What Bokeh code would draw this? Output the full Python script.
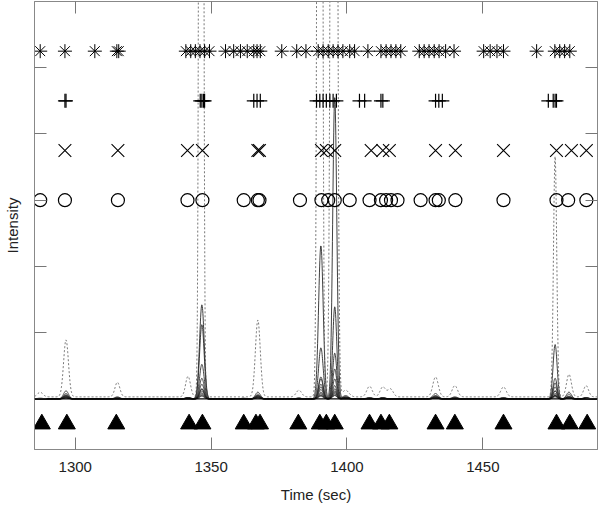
import numpy as np
from bokeh.plotting import figure
from bokeh.models import LinearAxis, FixedTicker, Range1d, Span
from bokeh.embed import file_html
from bokeh.resources import INLINE

# ---- axis ticks ----
x_ticks = [1300, 1350, 1400, 1450]
y_ticks = [0, 1, 2, 3, 4, 5]

# ---- dotted total trace: peak times, heights, widths (sec) ----
tic_t = [1287.1, 1296.6, 1315.5, 1341.5, 1346.35, 1367.2, 1382.3, 1390.0, 1395.2,
         1399.5, 1408.3, 1413.2, 1416.0, 1432.6, 1439.7, 1457.6, 1476.6, 1481.7, 1488.0]
tic_h = [0.07, 0.86, 0.22, 0.31, 40.0, 1.16, 0.10, 40.0, 40.0,
         0.10, 0.16, 0.15, 0.12, 0.30, 0.17, 0.15, 3.63, 0.34, 0.17]
tic_w = [1.0, 0.9, 0.9, 0.9, 0.54, 0.9, 1.0, 0.62, 0.77,
         1.2, 1.0, 1.0, 1.0, 1.0, 1.0, 1.0, 0.6, 0.9, 0.9]
tic_base = 0.03

# ---- individual ion traces (solid) ----
peak_t = [1287.1, 1296.6, 1315.5, 1341.5, 1346.6, 1362.0, 1367.2, 1382.3, 1390.4, 1395.5,
          1399.5, 1408.3, 1413.2, 1432.6, 1439.7, 1457.6, 1476.6, 1481.7, 1488.0]
peak_w = [1.0, 0.9, 0.9, 0.9, 0.85, 0.9, 0.9, 0.9, 0.85, 0.75,
          1.0, 1.0, 1.0, 1.0, 1.0, 1.0, 0.75, 0.9, 0.9]
ion_h = [
    [0, 0.02, 0, 0, 0.15, 0, 0.02, 0, 0.30, 4.55, 0.05, 0, 0, 0.01, 0, 0, 0.05, 0.01, 0],
    [0, 0.03, 0, 0.01, 0.52, 0, 0.03, 0, 2.31, 0.45, 0.03, 0.01, 0.01, 0.02, 0, 0, 0.12, 0.02, 0],
    [0, 0.05, 0.01, 0.02, 1.42, 0, 0.05, 0.01, 0.22, 0.69, 0.02, 0, 0, 0.03, 0.01, 0, 0.24, 0.03, 0.01],
    [0, 0.04, 0, 0.01, 1.12, 0, 0.03, 0, 0.33, 1.39, 0.03, 0.01, 0.01, 0.02, 0, 0.01, 0.31, 0.02, 0],
    [0, 0.12, 0.01, 0.02, 0.31, 0.01, 0.10, 0, 0.77, 0.30, 0.02, 0.02, 0.02, 0.08, 0.03, 0.02, 0.82, 0.10, 0.02],
    [0.01, 0.08, 0.03, 0.02, 0.22, 0, 0.07, 0.01, 0.18, 0.20, 0.02, 0.01, 0.01, 0.05, 0.02, 0.01, 0.18, 0.07, 0.02],
    [0, 0.06, 0.02, 0.01, 0.15, 0, 0.05, 0.01, 0.14, 0.15, 0.01, 0.01, 0.01, 0.04, 0.01, 0.01, 0.12, 0.04, 0.01],
    [0, 0.04, 0.01, 0.01, 0.12, 0, 0.04, 0, 0.10, 0.12, 0.01, 0, 0.01, 0.03, 0.01, 0, 0.08, 0.03, 0.01],
    [0, 0.03, 0, 0, 0.09, 0, 0.03, 0, 0.08, 0.10, 0.01, 0, 0, 0.02, 0, 0, 0.06, 0.02, 0],
    [0, 0.02, 0, 0, 0.07, 0, 0.02, 0, 0.06, 0.08, 0, 0, 0, 0.01, 0, 0, 0.05, 0.01, 0],
    [0, 0.02, 0, 0, 0.05, 0, 0.02, 0, 0.05, 0.06, 0, 0, 0, 0.01, 0, 0, 0.04, 0.01, 0],
    [0, 0.01, 0, 0, 0.04, 0, 0.01, 0, 0.04, 0.05, 0, 0, 0, 0.01, 0, 0, 0.03, 0.01, 0],
]

# ---- marker rows (times in sec) ----
asterisk_t = [1287.1, 1296.2, 1307.2, 1315.3, 1316.0,
              1340.7, 1342.5, 1344.2, 1345.9, 1347.6, 1349.4, 1355.3, 1358.3, 1360.8,
              1363.3, 1365.7, 1366.9, 1368.1, 1376.0, 1381.5, 1384.9,
              1389.4, 1391.2, 1393.1, 1394.9, 1396.7, 1398.5, 1401.0, 1402.8,
              1407.7, 1412.5, 1414.4, 1416.2, 1418.0, 1419.8,
              1426.6, 1428.4, 1430.2, 1432.1, 1433.9, 1436.3, 1439.4,
              1450.3, 1452.7, 1455.2, 1457.6, 1469.8, 1476.5, 1478.3, 1480.1, 1482.0]
plus_t = [1296.2, 1296.6, 1346.0, 1346.6, 1347.2, 1347.6, 1365.7, 1366.9, 1368.1,
          1388.8, 1390.0, 1391.2, 1392.4, 1393.7, 1394.9, 1396.1, 1404.6, 1406.5,
          1412.5, 1413.2, 1432.6, 1433.8, 1435.1, 1474.1, 1475.9, 1476.6, 1477.1]
x_t = [1296.2, 1315.7, 1341.3, 1346.8, 1367.2, 1367.8, 1390.6, 1392.4, 1395.5,
       1408.9, 1413.2, 1415.6, 1432.6, 1439.9, 1457.6, 1477.1, 1482.6, 1488.1]
circle_t = [1287.1, 1296.2, 1315.7, 1341.3, 1346.8, 1362.0, 1367.2, 1367.8, 1382.7,
            1390.6, 1393.1, 1395.5, 1401.0, 1408.3, 1412.5, 1414.4, 1416.2, 1418.6,
            1427.1, 1432.6, 1433.8, 1439.9, 1457.6, 1477.1, 1481.4, 1488.1]
triangle_t = [1287.7, 1296.9, 1315.1, 1341.9, 1346.8, 1362.0, 1366.5, 1368.0, 1382.1,
              1390.0, 1392.4, 1395.5, 1408.3, 1412.5, 1415.6, 1432.6, 1439.7, 1457.6,
              1477.1, 1482.0, 1488.4]
row_asterisk, row_plus, row_x, row_circle, row_triangle = 5.25, 4.5, 3.75, 3.0, -0.38

FONT = "Liberation Sans"

p = figure(width=600, height=505, x_range=Range1d(1285, 1492.2), y_range=Range1d(-0.765, 6.0),
           output_backend="svg", toolbar_location=None,
           min_border_left=29, min_border_right=3, min_border_top=1, min_border_bottom=55,
           x_axis_label="Time (sec)", y_axis_label="Intensity")
p.grid.visible = False
p.outline_line_color = "#888888"
p.background_fill_color = "white"
p.border_fill_color = "white"

def style_axis(ax, ticks, labels=True):
    ax.ticker = FixedTicker(ticks=ticks)
    ax.major_tick_in = 12
    ax.major_tick_out = 0
    ax.minor_tick_in = 0
    ax.minor_tick_out = 0
    ax.axis_line_color = "#888888"
    ax.major_tick_line_color = "#777777"
    if labels:
        ax.major_label_text_font = FONT
        ax.major_label_text_font_size = "15px"
        ax.major_label_text_color = "#222222"
        ax.major_label_standoff = 12
    else:
        ax.major_label_text_font_size = "0px"
        ax.major_label_text_color = None
        ax.major_label_standoff = 0
    ax.axis_label_text_font = FONT
    ax.axis_label_text_font_size = "15px"
    ax.axis_label_text_font_style = "normal"
    ax.axis_label_text_color = "#222222"

style_axis(p.xaxis[0], x_ticks, True)
p.xaxis[0].axis_label_standoff = 11
style_axis(p.yaxis[0], y_ticks, False)
p.yaxis[0].axis_label_standoff = 14

top = LinearAxis()
style_axis(top, x_ticks, False)
p.add_layout(top, "above")
right = LinearAxis()
style_axis(right, y_ticks, False)
p.add_layout(right, "right")

tt = np.linspace(1285, 1492.2, 3000)

def trace(centers, heights, widths, base=0.0):
    y = np.full_like(tt, base)
    for c, h, w in zip(centers, heights, widths):
        y += h * np.exp(-(tt - c) ** 2 / (2 * w * w))
    return y

for row in ion_h:
    p.line(tt, trace(peak_t, row, peak_w), line_color="#2a2a2a", line_width=0.9)

p.line(tt, trace(tic_t, tic_h, tic_w, tic_base), line_color="#555555", line_width=0.8, line_dash="2 2")

p.add_layout(Span(location=0, dimension="width", line_color="black", line_width=1.3))

p.scatter(asterisk_t, [row_asterisk] * len(asterisk_t), marker="asterisk", size=14,
          line_color="black", line_width=1)
p.scatter(plus_t, [row_plus] * len(plus_t), marker="cross", size=14,
          line_color="black", line_width=1.2)
p.scatter(x_t, [row_x] * len(x_t), marker="x", size=18,
          line_color="black", line_width=1.1)
p.scatter(circle_t, [row_circle] * len(circle_t), marker="circle", size=13,
          line_color="black", fill_color=None, line_width=1.2)
p.scatter(triangle_t, [row_triangle] * len(triangle_t), marker="triangle", size=17,
          line_color="black", fill_color="black", line_width=1)

open("out.html", "w").write(file_html(p, INLINE))
